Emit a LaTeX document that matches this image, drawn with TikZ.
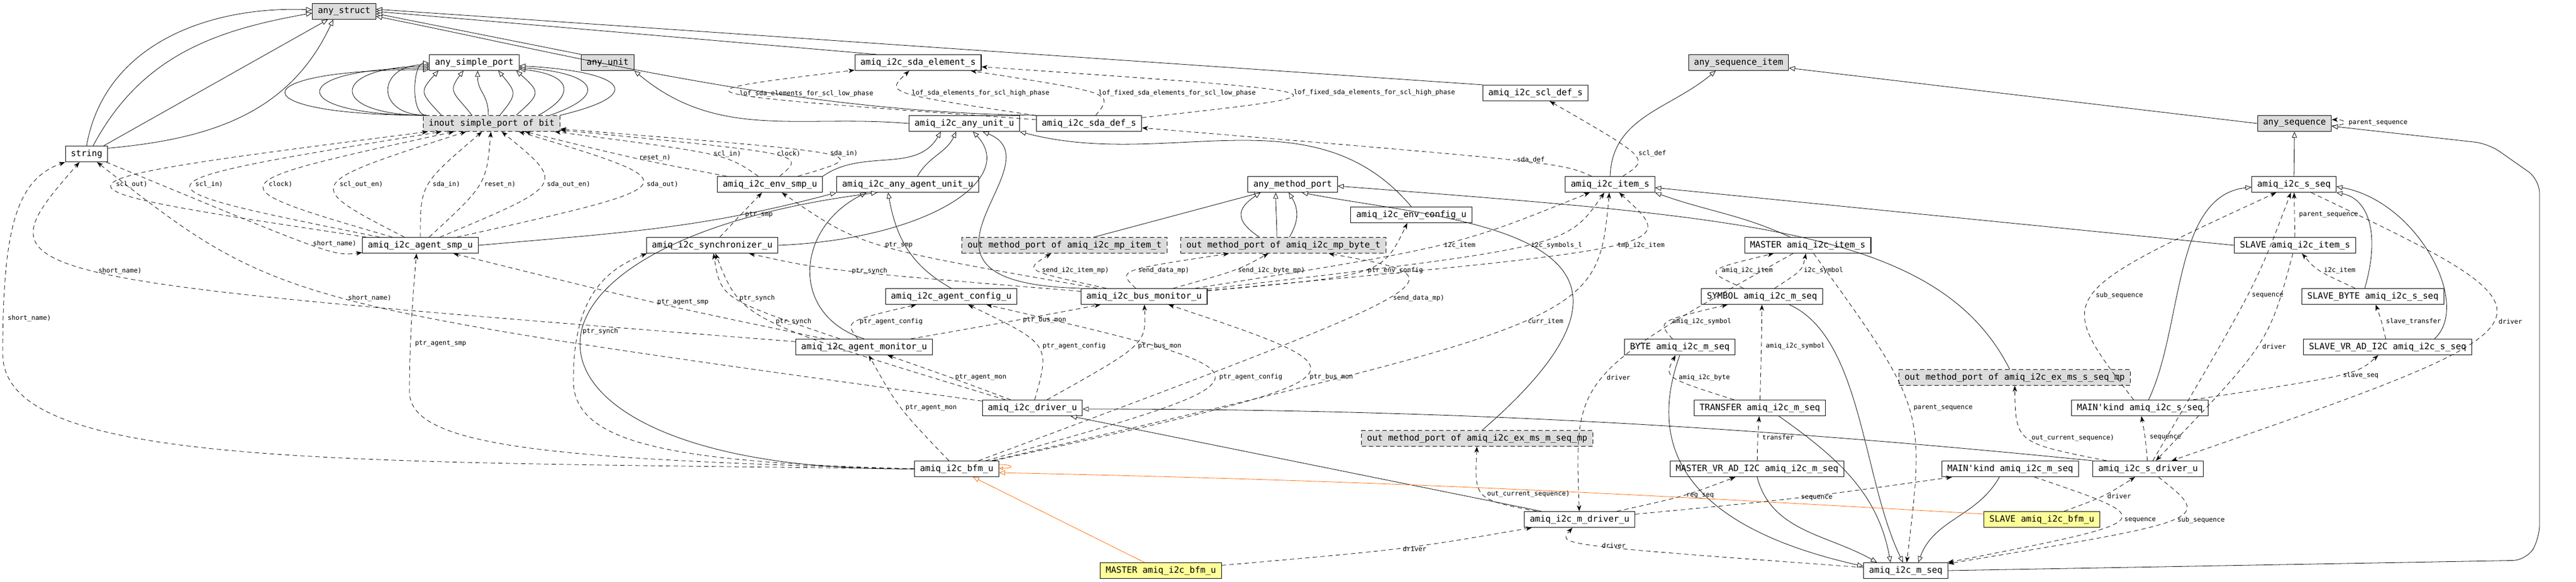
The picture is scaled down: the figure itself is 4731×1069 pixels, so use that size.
\documentclass[tikz,border=0pt]{standalone}
\usepackage{fontspec}
\setmonofont{DejaVu Sans Mono}
\usetikzlibrary{arrows.meta}
\definecolor{boxgray}{RGB}{220,220,220}
\definecolor{bfmyellow}{RGB}{255,255,153}
\definecolor{inhorange}{RGB}{255,102,0}
\tikzset{
  cls/.style={draw, line width=1.1pt, font=\ttfamily\fontsize{16}{18}\selectfont,
    minimum height=29pt, inner xsep=10pt, inner ysep=0pt},
  ext/.style={cls, fill=boxgray},
  mport/.style={cls, fill=boxgray, dash pattern=on 8pt off 5pt},
  bfmkind/.style={cls, fill=bfmyellow},
  inh/.style={line width=0.8pt, -{Triangle[open, length=11pt, width=9pt, fill=white]}},
  inhor/.style={inh, draw=inhorange},
  fld/.style={line width=0.8pt, dash pattern=on 8pt off 6pt,
    -{Stealth[length=11pt, width=8pt, inset=3pt]}},
  lbl/.style={font=\ttfamily\fontsize{12}{13}\selectfont, anchor=west,
    inner sep=3pt, xshift=5pt, pos=0.5},
}
\begin{document}
\begin{tikzpicture}[x=1pt, y=-1pt]
  \useasboundingbox (0,0) rectangle (4731,1069);
  \node [ext] (anystr) at (632,21) {any\_struct};
  \node [cls] (asp) at (871,115) {any\_simple\_port};
  \node [ext] (anyunit) at (1116,115) {any\_unit};
  \node [cls] (sdaelem) at (1686,115) {amiq\_i2c\_sda\_element\_s};
  \node [ext] (anyseqitem) at (3193,115) {any\_sequence\_item};
  \node [cls] (scldef) at (2820,171) {amiq\_i2c\_scl\_def\_s};
  \node [mport] (ip) at (903,227) {inout simple\_port of bit};
  \node [cls] (anyunitu) at (1771,227) {amiq\_i2c\_any\_unit\_u};
  \node [cls] (sdadef) at (2000,227) {amiq\_i2c\_sda\_def\_s};
  \node [ext] (anyseq) at (4214,227) {any\_sequence};
  \node [cls] (str) at (159,283) {string};
  \node [cls] (envsmp) at (1414,339) {amiq\_i2c\_env\_smp\_u};
  \node [cls] (anyagent) at (1667,339) {amiq\_i2c\_any\_agent\_unit\_u};
  \node [cls] (anymp) at (2374,339) {any\_method\_port};
  \node [cls] (items) at (2957,339) {amiq\_i2c\_item\_s};
  \node [cls] (sseq) at (4213,339) {amiq\_i2c\_s\_seq};
  \node [cls] (envcfg) at (2592,395) {amiq\_i2c\_env\_config\_u};
  \node [cls] (agsmp) at (772,451) {amiq\_i2c\_agent\_smp\_u};
  \node [cls] (sync) at (1308,451) {amiq\_i2c\_synchronizer\_u};
  \node [mport] (mpitem) at (1955,451) {out method\_port of amiq\_i2c\_mp\_item\_t};
  \node [mport] (mpbyte) at (2357,451) {out method\_port of amiq\_i2c\_mp\_byte\_t};
  \node [cls] (mitem) at (3320,451) {MASTER amiq\_i2c\_item\_s};
  \node [cls] (sitem) at (4215,451) {SLAVE amiq\_i2c\_item\_s};
  \node [cls] (agcfg) at (1747,545) {amiq\_i2c\_agent\_config\_u};
  \node [cls] (busmon) at (2101,545) {amiq\_i2c\_bus\_monitor\_u};
  \node [cls] (symseq) at (3236,545) {SYMBOL amiq\_i2c\_m\_seq};
  \node [cls] (sbyteseq) at (4358,545) {SLAVE\_BYTE amiq\_i2c\_s\_seq};
  \node [cls] (agmon) at (1587,638) {amiq\_i2c\_agent\_monitor\_u};
  \node [cls] (byteseq) at (3085,638) {BYTE amiq\_i2c\_m\_seq};
  \node [cls] (svrseq) at (4385,638) {SLAVE\_VR\_AD\_I2C amiq\_i2c\_s\_seq};
  \node [mport] (exsmp) at (3700,694) {out method\_port of amiq\_i2c\_ex\_ms\_s\_seq\_mp};
  \node [cls] (driver) at (1896,750) {amiq\_i2c\_driver\_u};
  \node [cls] (xferseq) at (3232,750) {TRANSFER amiq\_i2c\_m\_seq};
  \node [cls] (mainsseq) at (3930,750) {MAIN'kind amiq\_i2c\_s\_seq};
  \node [mport] (exmmp) at (2713,806) {out method\_port of amiq\_i2c\_ex\_ms\_m\_seq\_mp};
  \node [cls] (bfm) at (1757,862) {amiq\_i2c\_bfm\_u};
  \node [cls] (mvrseq) at (3227,862) {MASTER\_VR\_AD\_I2C amiq\_i2c\_m\_seq};
  \node [cls] (mainmseq) at (3692,862) {MAIN'kind amiq\_i2c\_m\_seq};
  \node [cls] (sdriver) at (3945,862) {amiq\_i2c\_s\_driver\_u};
  \node [cls] (mdriver) at (2901,955) {amiq\_i2c\_m\_driver\_u};
  \node [bfmkind] (sbfm) at (3750,955) {SLAVE amiq\_i2c\_bfm\_u};
  \node [bfmkind] (mbfm) at (2132,1049) {MASTER amiq\_i2c\_bfm\_u};
  \node [cls] (mseq) at (3500,1049) {amiq\_i2c\_m\_seq};
  % inheritance
  \draw [inh] (str.north) .. controls +(33,-187) and +(-190,-7) .. ([yshift=3pt]anystr.west);
  \draw [inh] ([xshift=12pt]str.north) .. controls +(87,-163) and +(-182,32) .. ([yshift=-3pt]anystr.west);
  \draw [inh] ([xshift=-8pt]str.north east) -- ([xshift=-30pt]anystr.south);
  \draw [inh] (str.15) .. controls +(189,-17) and +(-80,172) .. ([xshift=-20pt]anystr.south);
  \draw [inh] (scldef.north west) -- ([yshift=4pt]anystr.east);
  \draw [inh] ([xshift=40pt]sdaelem.north west) -- (anystr.east);
  \draw [inh] (anyunit.north west) -- ([yshift=-4pt]anystr.east);
  \draw [inh] (sdadef.north west) .. controls +(-450,-5) and +(350,70) .. ([yshift=-9pt]anystr.east);
  \draw [inh] (anyunitu.west) .. controls +(-199,-17) and +(153,129) .. (anyunit.south east);
  \foreach \d/\y in {348/2,263/5,183/8,96/11,30/14}
    \draw [inh] ([xshift=6pt]ip.north west) .. controls +(-\d,0) and +(-\d,0) .. ([yshift=\y pt]asp.south west);
  \foreach \s/\e/\a in {34/17/-37,90/63/-31,120/89/0,141/127/33,171/160/45}
    \draw [inh] ([xshift=\s pt]ip.north west) .. controls +(\a,-40) and +(\a,40) .. ([xshift=\e pt]asp.south west);
  \foreach \s/\y/\a in {212/3/73,233/6/115,252/9/167}
    \draw [inh] ([xshift=\s pt]ip.north west) .. controls +(\a,-40) and +(\a+20,10) .. ([yshift=\y pt]asp.south east);
  \draw [inh] (envsmp.north east) .. controls +(74,-52) and +(-45,78) .. ([xshift=-43pt]anyunitu.south);
  \draw [inh] ([xshift=18pt]anyagent.north) .. controls +(21,-37) and +(-18,39) .. ([xshift=-15pt]anyunitu.south);
  \draw [inh] (sync.east) .. controls (1700,440) and (1870,330) .. ([xshift=16pt]anyunitu.south);
  \draw [inh] (busmon.north west) .. controls (1600,520) and (1950,300) .. ([xshift=34pt]anyunitu.south);
  \draw [inh] (envcfg.north) .. controls +(-180,-214) and +(270,72) .. (anyunitu.south east);
  \draw [inh] (agsmp.east) .. controls +(259,-23) and +(-251,67) .. (anyagent.south west);
  \draw [inh] (agmon.north) .. controls (1450,580) and (1460,420) .. ([xshift=55pt]anyagent.south west);
  \draw [inh] (bfm.west) .. controls (900,870) and (850,450) .. ([xshift=75pt]anyagent.south west);
  \draw [inh] (agcfg.north) .. controls +(-74,-42) and +(15,84) .. ([xshift=95pt]anyagent.south west);
  \draw [inh] ([xshift=54pt]mpitem.north) -- ([xshift=-59pt]anymp.south);
  \foreach \s/\e/\a in {-44/-59/-45,-12/-31/0,11/-7/18}
    \draw [inh] ([xshift=\s pt]mpbyte.north) .. controls +(\a,-30) and +(\a,30) .. ([xshift=\e pt]anymp.south);
  \draw [inh] ([xshift=9pt]exmmp.north) .. controls (3150,420) and (2650,405) .. ([xshift=17pt]anymp.south);
  \draw [inh] ([xshift=-9pt]exsmp.north) .. controls (3560,420) and (3200,400) .. ([yshift=-3pt]anymp.east);
  \draw [inh] (items.north) .. controls +(4,-110) and +(-84,71) .. ([xshift=-42pt]anyseqitem.south);
  \draw [inh] ([xshift=-32pt]mitem.north) .. controls +(-91,-42) and +(94,34) .. (items.south east);
  \draw [inh] (sitem.west) -- ([yshift=-6pt]items.east);
  \draw [inh] (anyseq.west) -- ([yshift=-10pt]anyseqitem.east);
  \draw [inh] (sseq.north) -- (anyseq.south);
  \draw [inh, rounded corners=25pt] (mseq.east) -- (4640,1030) -- (4664,990)
    -- (4664,330) -- (4570,264) -- ([yshift=-5pt]anyseq.east);
  \draw [inh] (byteseq.south) .. controls (3010,860) and (3150,980) .. ([yshift=8pt]mseq.west);
  \draw [inh] (mvrseq.south) .. controls +(27,101) and +(-91,-52) .. ([xshift=-53pt]mseq.north);
  \draw [inh] ([xshift=35pt]xferseq.south) .. controls +(106,75) and +(-23,-128) .. ([xshift=-28pt]mseq.north);
  \draw [inh] ([xshift=50pt]symseq.south) .. controls (3420,620) and (3420,880) .. ([xshift=-5pt]mseq.north);
  \draw [inh] ([xshift=-20pt]mainmseq.south) .. controls +(-42,74) and +(29,-80) .. ([xshift=23pt]mseq.north);
  \draw [inh] ([xshift=-15pt]sbyteseq.north) .. controls (4372,430) and (4350,365) .. (sseq.south east);
  \draw [inh] ([xshift=86pt]svrseq.north) .. controls (4540,560) and (4440,370) .. ([yshift=-4pt]sseq.east);
  \draw [inh] ([xshift=16pt]mainsseq.north) .. controls (4010,600) and (3990,360) .. ([yshift=-5pt]sseq.west);
  \draw [inh] ([xshift=32pt]mdriver.north west) -- ([xshift=-22pt]driver.south east);
  \draw [inh] (sdriver.north west) .. controls +(-600,-60) and +(700,0) .. ([yshift=-2pt]driver.east);
  \draw [inhor] ([yshift=10pt]sbfm.west) .. controls +(-700,-40) and +(700,15) .. ([yshift=-7pt]bfm.east);
  \draw [inhor] (mbfm) -- (bfm);
  \draw [inhor, -{Triangle[open, length=7pt, width=6pt, fill=white]}]
    ([yshift=8pt]bfm.east) .. controls +(28,0) and +(28,0) .. ([yshift=1pt]bfm.east);
  % fields
  \draw [fld] (agsmp) .. controls (30,339) .. (ip) node [lbl] {scl\_out)};
  \draw [fld] (agsmp) .. controls (216,339) .. (ip) node [lbl] {scl\_in)};
  \draw [fld] (agsmp) .. controls (388,339) .. (ip) node [lbl] {clock)};
  \draw [fld] (agsmp) .. controls (554,339) .. (ip) node [lbl] {scl\_out\_en)};
  \draw [fld] (agsmp) .. controls (772,339) .. (ip) node [lbl] {sda\_in)};
  \draw [fld] (agsmp) .. controls (893,339) .. (ip) node [lbl] {reset\_n)};
  \draw [fld] (agsmp) .. controls (1040,339) .. (ip) node [lbl] {sda\_out\_en)};
  \draw [fld] (agsmp) .. controls (1274,339) .. (ip) node [lbl] {sda\_out)};
  \draw [fld] (envsmp) .. controls (1171,293) .. (ip) node [lbl] {reset\_n)};
  \draw [fld] (envsmp) .. controls (1334,283) .. (ip) node [lbl] {scl\_in)};
  \draw [fld] (envsmp) .. controls (1481,283) .. (ip) node [lbl] {clock)};
  \draw [fld] (envsmp) .. controls (1606,283) .. (ip) node [lbl] {sda\_in)};
  \draw [fld] (str) .. controls (612,471) .. (agsmp) node [lbl] {short\_name)};
  \draw [fld] (agmon) .. controls (-38,510) .. (str) node [lbl] {short\_name)};
  \draw [fld] (driver) .. controls (511,559) .. (str) node [lbl] {short\_name)};
  \draw [fld] (bfm.west) .. controls (600,848) and (5,860) .. (5,650)
    .. controls (5,420) and (30,330) .. (str.south west) node [lbl, pos=0.1] {short\_name)};
  \draw [fld] (sync) .. controls (1360,395) .. (envsmp) node [lbl] {ptr\_smp};
  \draw [fld] (busmon) .. controls (1581,454) .. (envsmp) node [lbl] {ptr\_smp};
  \draw [fld] (bfm.west) .. controls (1250,850) and (1053,820) .. (1053,700)
    .. controls (1053,560) and (1100,500) .. ([xshift=-120pt]sync.south) node [lbl, pos=0.25] {ptr\_synch};
  \draw [fld] (agmon) .. controls (1324,549) .. (sync) node [lbl] {ptr\_synch};
  \draw [fld] (driver) .. controls (1362,588) .. (sync) node [lbl] {ptr\_synch};
  \draw [fld] (busmon) .. controls (1515,497) .. (sync) node [lbl] {ptr\_synch};
  \draw [fld] (bfm.west) .. controls (1000,845) and (752,820) .. (752,720)
    .. controls (752,620) and (760,520) .. ([xshift=-7pt]agsmp.south) node [lbl, pos=0.3] {ptr\_agent\_smp};
  \draw [fld] (agmon) .. controls (1207,559) .. (agsmp) node [lbl] {ptr\_agent\_smp};
  \draw [fld] (agmon) .. controls (1551,591) .. (agcfg) node [lbl] {ptr\_agent\_config};
  \draw [fld] (driver) .. controls (1929,633) .. (agcfg) node [lbl] {ptr\_agent\_config};
  \draw [fld] (bfm) .. controls (2371,690) .. (agcfg) node [lbl] {ptr\_agent\_config};
  \draw [fld] (agmon) .. controls (1878,587) .. (busmon) node [lbl] {ptr\_bus\_mon};
  \draw [fld] (driver) .. controls (2105,633) .. (busmon) node [lbl] {ptr\_bus\_mon};
  \draw [fld] (bfm) .. controls (2534,690) .. (busmon) node [lbl] {ptr\_bus\_mon};
  \draw [fld] (driver) .. controls (1747,694) .. (agmon) node [lbl] {ptr\_agent\_mon};
  \draw [fld] (bfm) .. controls (1650,750) .. (agmon) node [lbl] {ptr\_agent\_mon};
  \draw [fld] (busmon) .. controls (2538,506) .. (envcfg) node [lbl] {ptr\_env\_config};
  \draw [fld] (busmon) .. controls (1880,497) .. (mpitem) node [lbl] {send\_i2c\_item\_mp)};
  \draw [fld] (busmon) .. controls (2052,497) .. (mpbyte) node [lbl] {send\_data\_mp)};
  \draw [fld] (busmon) .. controls (2273,497) .. (mpbyte) node [lbl] {send\_i2c\_byte\_mp)};
  \draw [fld] (bfm) .. controls (2694,512) .. (mpbyte) node [lbl] {send\_data\_mp)};
  \draw [fld] (busmon) .. controls (2672,454) .. (items) node [lbl] {i2c\_item};
  \draw [fld] (busmon) .. controls (2877,454) .. (items) node [lbl] {i2c\_symbols\_l};
  \draw [fld] (busmon) .. controls (3084,454) .. (items) node [lbl] {tmp\_i2c\_item};
  \draw [fld] (bfm) .. controls (2934,588) .. (items) node [lbl] {curr\_item};
  \draw [fld] (items) .. controls (2867,299) .. (sdadef) node [lbl] {sda\_def};
  \draw [fld] (items) .. controls (3030,292) .. (scldef) node [lbl] {scl\_def};
  \draw [fld] (sdadef) .. controls (1221,171) .. (sdaelem) node [lbl] {lof\_sda\_elements\_for\_scl\_low\_phase};
  \draw [fld] (sdadef) .. controls (1626,171) .. (sdaelem) node [lbl] {lof\_sda\_elements\_for\_scl\_high\_phase};
  \draw [fld] (sdadef) .. controls (2046,171) .. (sdaelem) node [lbl] {lof\_fixed\_sda\_elements\_for\_scl\_low\_phase};
  \draw [fld] (sdadef) .. controls (2507,171) .. (sdaelem) node [lbl] {lof\_fixed\_sda\_elements\_for\_scl\_high\_phase};
  \draw [fld] (symseq) .. controls (3128,497) .. (mitem) node [lbl] {amiq\_i2c\_item};
  \draw [fld] (symseq) .. controls (3310,497) .. (mitem) node [lbl] {i2c\_symbol};
  \draw [fld] (byteseq) .. controls (3043,591) .. (symseq) node [lbl] {amiq\_i2c\_symbol};
  \draw [fld] (xferseq) .. controls (3235,633) .. (symseq) node [lbl] {amiq\_i2c\_symbol};
  \draw [fld] (xferseq) .. controls (3056,694) .. (byteseq) node [lbl] {amiq\_i2c\_byte};
  \draw [fld] (mvrseq) .. controls (3228,804) .. (xferseq) node [lbl] {transfer};
  \draw [fld] (mitem) .. controls (3536,750) .. (mseq) node [lbl] {parent\_sequence};
  \draw [fld] (sdriver) .. controls (3702,814) .. (exsmp) node [lbl] {out\_current\_sequence)};
  \draw [fld] (mdriver) .. controls (2708,918) .. (exmmp) node [lbl] {out\_current\_sequence)};
  \draw [fld] (mitem) .. controls (2891,691) .. (mdriver) node [lbl] {driver};
  \draw [fld] (mseq) .. controls (2860,1002) .. (mdriver) node [lbl] {driver};
  \draw [fld] (mbfm) .. controls (2581,1010) .. (mdriver) node [lbl] {driver};
  \draw [fld] (sbfm) .. controls (3864,913) .. (sdriver) node [lbl] {driver};
  \draw [fld] (sseq) .. controls (4735,588) .. (sdriver) node [lbl] {driver};
  \draw [fld] (sitem) .. controls (4167,630) .. (sdriver) node [lbl] {driver};
  \draw [fld] (mdriver) .. controls (3301,917) .. (mainmseq) node [lbl] {sequence};
  \draw [fld] (mdriver) .. controls (3092,913) .. (mvrseq) node [lbl] {reg\_seq};
  \draw [fld] (mainsseq) .. controls (3771,543) .. (sseq) node [lbl] {sub\_sequence};
  \draw [fld] (sdriver) .. controls (4143,525) .. (sseq) node [lbl] {sequence};
  \draw [fld] (sdriver) .. controls (3940,804) .. (mainsseq) node [lbl] {sequence};
  \draw [fld] (mainmseq) .. controls (3972,957) .. (mseq) node [lbl] {sequence};
  \draw [fld] (sdriver) .. controls (4064,956) .. (mseq) node [lbl] {sub\_sequence};
  \draw [fld] (sitem) .. controls (4214,395) .. (sseq) node [lbl] {parent\_sequence};
  \draw [fld] (sbyteseq) .. controls (4254,497) .. (sitem) node [lbl] {i2c\_item};
  \draw [fld] (svrseq) .. controls (4374,591) .. (sbyteseq) node [lbl] {slave\_transfer};
  \draw [fld] (mainsseq) .. controls (4327,689) .. (svrseq) node [lbl] {slave\_seq};
  \draw [fld] ([yshift=-4pt]anyseq.east) .. controls +(30,0) and +(30,0) .. ([yshift=7pt]anyseq.east)
    node [lbl] {parent\_sequence};
\end{tikzpicture}
\end{document}
